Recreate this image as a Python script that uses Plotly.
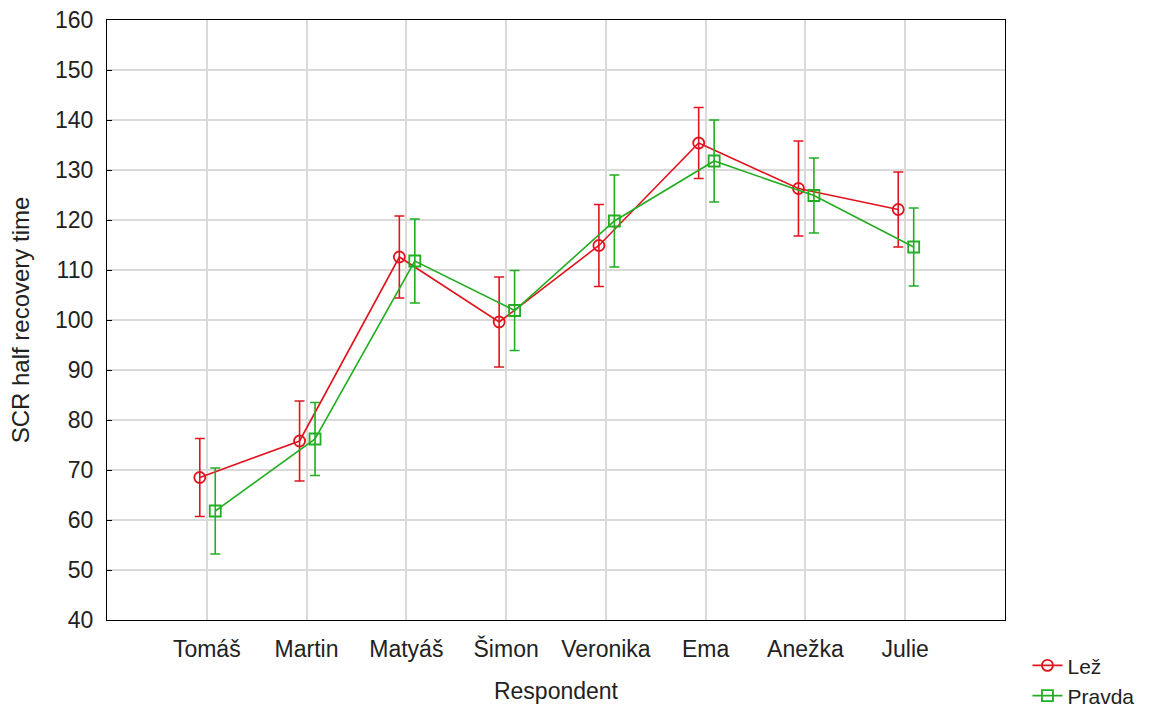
import plotly.graph_objects as go

# Respondents on the x axis
respondents = ["Tomáš", "Martin", "Matyáš", "Šimon", "Veronika", "Ema", "Anežka", "Julie"]

# Mean SCR half recovery time and error (half-width of the interval)
lez_mean = [68.5, 75.8, 112.6, 99.6, 114.9, 135.4, 126.3, 122.1]
lez_err = [7.8, 8.0, 8.2, 9.0, 8.2, 7.1, 9.5, 7.5]
pravda_mean = [61.8, 76.2, 111.8, 101.9, 119.8, 131.8, 124.9, 114.6]
pravda_err = [8.6, 7.3, 8.4, 8.0, 9.2, 8.2, 7.5, 7.8]

RED = "#e0141e"
GREEN = "#22ad22"
FONT = "Liberation Sans, Arial, sans-serif"
TXT = "#222222"

idx = list(range(len(respondents)))

fig = go.Figure()
fig.add_trace(go.Scatter(
    x=[i - 0.07 for i in idx], y=lez_mean, name="Lež",
    mode="lines+markers",
    line=dict(color=RED, width=1.6),
    marker=dict(symbol="circle-open", size=11, color=RED, line=dict(width=1.8)),
    error_y=dict(type="data", array=lez_err, color=RED, thickness=1.6, width=5),
))
fig.add_trace(go.Scatter(
    x=[i + 0.085 for i in idx], y=pravda_mean, name="Pravda",
    mode="lines+markers",
    line=dict(color=GREEN, width=1.6),
    marker=dict(symbol="square-open", size=11, color=GREEN, line=dict(width=1.8)),
    error_y=dict(type="data", array=pravda_err, color=GREEN, thickness=1.6, width=5),
))

fig.update_layout(
    width=1168, height=708,
    margin=dict(l=107, r=163, t=20, b=88, autoexpand=False),
    paper_bgcolor="white", plot_bgcolor="white",
    font=dict(family=FONT, size=23, color=TXT),
    showlegend=True,
    legend=dict(
        x=1.025, y=-0.042, xanchor="left", yanchor="top",
        bgcolor="rgba(0,0,0,0)", borderwidth=0,
        font=dict(family=FONT, size=21, color=TXT),
        tracegroupgap=0, itemwidth=30,
    ),
    xaxis=dict(
        range=[-1, 8],
        tickmode="array", tickvals=idx, ticktext=respondents,
        showgrid=True, gridcolor="#dadada", gridwidth=1.5,
        zeroline=False,
        showline=True, linecolor="black", linewidth=1.3, mirror=True,
        ticks="", ticklen=0, ticklabelstandoff=8,
        title=dict(text="Respondent", standoff=22, font=dict(size=23)),
        tickfont=dict(size=23),
    ),
    yaxis=dict(
        range=[40, 160], dtick=10,
        showgrid=True, gridcolor="#dadada", gridwidth=1.5,
        zeroline=False,
        showline=True, linecolor="black", linewidth=1.3, mirror=True,
        ticks="inside", ticklen=5, tickcolor="black", tickwidth=1.2,
        ticklabelstandoff=8,
        title=dict(text="SCR half recovery time", standoff=18, font=dict(size=24)),
        tickfont=dict(size=23),
    ),
)

fig.write_html("out.html")
